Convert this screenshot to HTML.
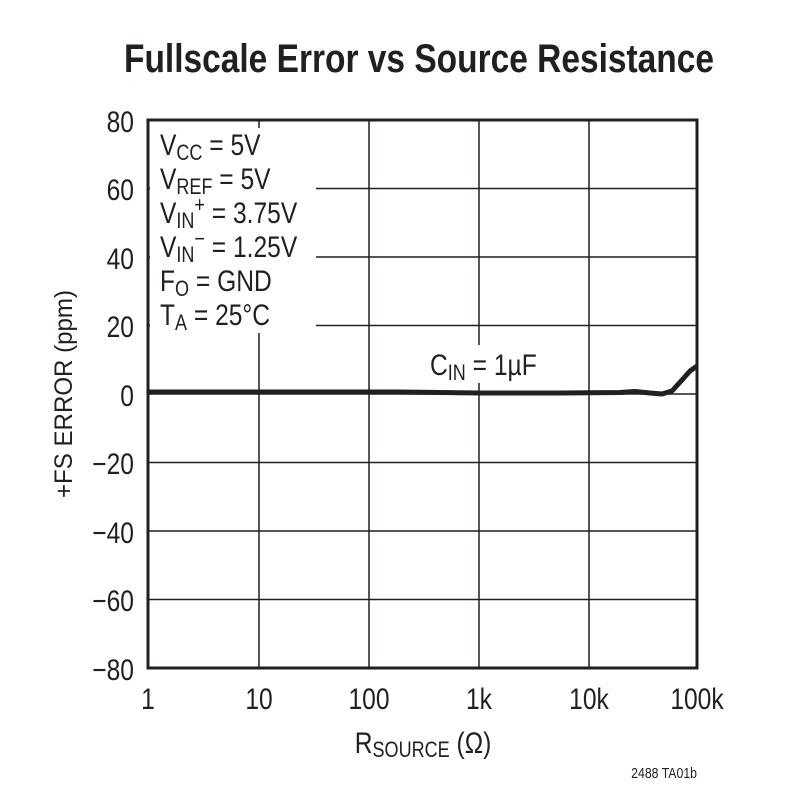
<!DOCTYPE html>
<html><head><style>body{margin:0;background:#fff}svg{display:block}text{font-family:"Liberation Sans",sans-serif;fill:#231f20}</style></head><body>
<svg width="797" height="802" viewBox="0 0 797 802">
<text x="419" y="72" font-size="40" font-weight="bold" text-anchor="middle" textLength="590" lengthAdjust="spacingAndGlyphs">Fullscale Error vs Source Resistance</text>
<g stroke="#231f20" stroke-width="1.5" fill="none">
<line x1="148" y1="188.5" x2="697" y2="188.5"/><line x1="148" y1="257" x2="697" y2="257"/><line x1="148" y1="325.5" x2="697" y2="325.5"/>
<line x1="148" y1="394" x2="697" y2="394"/><line x1="148" y1="462.5" x2="697" y2="462.5"/><line x1="148" y1="531" x2="697" y2="531"/><line x1="148" y1="599.5" x2="697" y2="599.5"/>
<line x1="259" y1="120" x2="259" y2="668"/><line x1="369" y1="120" x2="369" y2="668"/><line x1="479" y1="120" x2="479" y2="668"/><line x1="589" y1="120" x2="589" y2="668"/>
</g>
<rect x="150" y="128" width="166" height="205" fill="#fff"/>
<rect x="410" y="345" width="140" height="38" fill="#fff"/>
<rect x="148" y="120" width="549" height="548" fill="none" stroke="#231f20" stroke-width="3"/>
<path d="M148 392 L400 392 L480 393 L560 393 L620 392.5 L635 391.5 L650 393 L662 394 L672 391 L682 380 L690 371 L697 366" fill="none" stroke="#231f20" stroke-width="5" stroke-linejoin="round"/>
<g transform="scale(0.82 1)">
<g font-size="30" text-anchor="end">
<text x="163.4" y="132">80</text><text x="163.4" y="200">60</text><text x="163.4" y="269">40</text><text x="163.4" y="337">20</text><text x="163.4" y="406">0</text>
<text x="163.4" y="474">−20</text><text x="163.4" y="543">−40</text><text x="163.4" y="611">−60</text><text x="163.4" y="680">−80</text>
</g>
<g font-size="30" text-anchor="middle">
<text x="180.5" y="709">1</text><text x="315.9" y="709">10</text><text x="450" y="709">100</text><text x="584.1" y="709">1k</text><text x="718.3" y="709">10k</text><text x="850" y="709">100k</text>
</g>
<text x="515.9" y="753" font-size="30" text-anchor="middle">R<tspan font-size="22" dy="4">SOURCE</tspan><tspan dy="-4"> (Ω)</tspan></text>
<g font-size="30">
<text x="195.1" y="155">V<tspan font-size="22" dy="5">CC</tspan><tspan dy="-5"> = 5V</tspan></text>
<text x="195.1" y="189">V<tspan font-size="22" dy="5">REF</tspan><tspan dy="-5"> = 5V</tspan></text>
<text x="195.1" y="223">V<tspan font-size="22" dy="5">IN</tspan><tspan font-size="22" dy="-16">+</tspan><tspan dy="11"> = 3.75V</tspan></text>
<text x="195.1" y="257">V<tspan font-size="22" dy="5">IN</tspan><tspan font-size="22" dy="-16">−</tspan><tspan dy="11"> = 1.25V</tspan></text>
<text x="195.1" y="291">F<tspan font-size="22" dy="5">O</tspan><tspan dy="-5"> = GND</tspan></text>
<text x="195.1" y="325">T<tspan font-size="22" dy="5">A</tspan><tspan dy="-5"> = 25°C</tspan></text>
<text x="524.4" y="375">C<tspan font-size="22" dy="5">IN</tspan><tspan dy="-5"> = 1µF</tspan></text>
</g>
<text x="850" y="778" font-size="15" text-anchor="end">2488 TA01b</text>
</g>
<text transform="translate(72,394) rotate(-90)" font-size="25" text-anchor="middle" textLength="208" lengthAdjust="spacingAndGlyphs">+FS ERROR (ppm)</text>
</svg>
</body></html>
